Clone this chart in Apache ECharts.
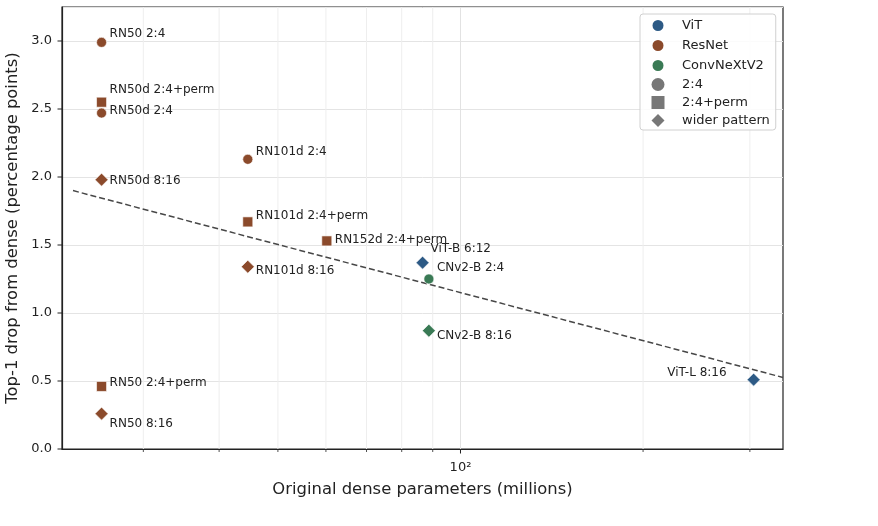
<!DOCTYPE html>
<html>
<head>
<meta charset="utf-8">
<script src="https://cdn.jsdelivr.net/npm/echarts@6/dist/echarts.min.js"></script>
<style>
  html, body { margin: 0; padding: 0; background: #fff; }
  #chart { width: 878px; height: 526px; }
</style>
</head>
<body>
<div id="chart"></div>
<script>
/** ---------------- data ---------------- */
var pointLabels = ['RN50 2:4', 'RN50d 2:4+perm', 'RN50d 2:4', 'RN50d 8:16',
    'RN101d 2:4', 'RN101d 2:4+perm', 'RN101d 8:16', 'RN152d 2:4+perm',
    'ViT-B 6:12', 'CNv2-B 2:4', 'CNv2-B 8:16', 'RN50 2:4+perm', 'RN50 8:16', 'ViT-L 8:16'];
var paramsM = [25.6, 25.6, 25.6, 25.6, 44.6, 44.6, 44.6, 60.2, 86.6, 88.7, 88.7, 25.6, 25.6, 304.3];
var drops = [2.99, 2.55, 2.47, 1.98, 2.13, 1.67, 1.34, 1.53, 1.37, 1.25, 0.87, 0.46, 0.26, 0.51];
var families = ['ResNet', 'ResNet', 'ResNet', 'ResNet', 'ResNet', 'ResNet', 'ResNet', 'ResNet',
    'ViT', 'ConvNeXtV2', 'ConvNeXtV2', 'ResNet', 'ResNet', 'ViT'];
var patterns = ['2:4', '2:4+perm', '2:4', 'wider pattern', '2:4', '2:4+perm', 'wider pattern', '2:4+perm',
    'wider pattern', '2:4', 'wider pattern', '2:4+perm', 'wider pattern', 'wider pattern'];

var familyNames = ['ViT', 'ResNet', 'ConvNeXtV2'];
var patternNames = ['2:4', '2:4+perm', 'wider pattern'];

// dashed fit line (log-x)
var trendX = [22.97, 340.2];
var trendY = [1.90, 0.526];

var xMinorTicks = [30, 40, 50, 60, 70, 80, 90, 200, 300];
var xMajorTicks = [100];
var yTicks = [0, 0.5, 1.0, 1.5, 2.0, 2.5, 3.0];

/** ---------------- styles ---------------- */
var familyColors = { 'ViT': '#2d5a85', 'ResNet': '#8b4a2b', 'ConvNeXtV2': '#3a7a55' };
var patternSymbols = { '2:4': 'circle', '2:4+perm': 'rect', 'wider pattern': 'diamond' };
var patternSizes = { '2:4': 10, '2:4+perm': 10, 'wider pattern': 13 };
var legendIcons = {
    '2:4': 'circle',
    '2:4+perm': 'path://M1,1L12,1L12,12L1,12Z',
    'wider pattern': 'path://M6.5,0L13,6.5L6.5,13L0,6.5Z'
};
// text offsets from marker centre (like annotate xytext)
var labelOffsets = {
    'RN50 2:4': [8, -8], 'RN50d 2:4+perm': [8, -12], 'RN50d 2:4': [8, -2], 'RN50d 8:16': [8, 1],
    'RN101d 2:4': [8, -7], 'RN101d 2:4+perm': [8, -6], 'RN101d 8:16': [8, 4], 'RN152d 2:4+perm': [8, -1],
    'ViT-B 6:12': [8, -14], 'CNv2-B 2:4': [8, -11], 'CNv2-B 8:16': [8, 5],
    'RN50 2:4+perm': [8, -4], 'RN50 8:16': [8, 10], 'ViT-L 8:16': [-27, -7]
};
var FONT = 'DejaVu Sans';
var INK = '#222';

function buildFamilySeries(fam) {
    var data = [];
    for (var i = 0; i < pointLabels.length; i++) {
        if (families[i] !== fam) continue;
        var off = labelOffsets[pointLabels[i]];
        data.push({
            value: [paramsM[i], drops[i]],
            symbol: patternSymbols[patterns[i]],
            symbolSize: patternSizes[patterns[i]],
            label: {
                show: true,
                formatter: pointLabels[i],
                position: 'inside',
                align: off[0] < 0 ? 'right' : 'left',
                verticalAlign: 'middle',
                offset: off,
                color: INK,
                fontSize: 12,
                fontFamily: FONT
            }
        });
    }
    return {
        name: fam,
        type: 'scatter',
        z: 4,
        itemStyle: { color: familyColors[fam], opacity: 1, borderColor: '#fff', borderWidth: 0.6 },
        emphasis: { disabled: true },
        data: data
    };
}

var series = [];
// vertical gridlines + bottom ticks (log axis minor ticks)
var tickData = [];
for (var i = 0; i < xMinorTicks.length; i++) tickData.push([xMinorTicks[i], 0, 0]);
for (var j = 0; j < xMajorTicks.length; j++) tickData.push([xMajorTicks[j], 0, 1]);
series.push({
    type: 'custom',
    z: 0,
    clip: false,
    silent: true,
    data: tickData,
    encode: { x: 0, y: 1 },
    renderItem: function (params, api) {
        var x = api.coord([api.value(0), 0])[0];
        var cs = params.coordSys;
        var bottom = cs.y + cs.height;
        var major = api.value(2) === 1;
        return {
            type: 'group',
            children: [
                { type: 'line', shape: { x1: x, y1: cs.y, x2: x, y2: bottom },
                  style: { stroke: major ? '#e2e2e2' : '#eeeeee', lineWidth: 1 } },
                { type: 'line', shape: { x1: x, y1: bottom, x2: x, y2: bottom + (major ? 4.5 : 3) },
                  style: { stroke: INK, lineWidth: major ? 1 : 0.8 } }
            ]
        };
    }
});
// y ticks on the left spine
var yTickData = [];
for (var k = 0; k < yTicks.length; k++) yTickData.push([trendX[0], yTicks[k]]);
series.push({
    type: 'custom',
    z: 0,
    clip: false,
    silent: true,
    data: yTickData,
    encode: { x: 0, y: 1 },
    renderItem: function (params, api) {
        var y = api.coord([trendX[0], api.value(1)])[1];
        var x0 = params.coordSys.x;
        return { type: 'line', shape: { x1: x0 - 4.5, y1: y, x2: x0, y2: y },
                 style: { stroke: INK, lineWidth: 1 } };
    }
});
series.push({
    type: 'line',
    z: 2,
    silent: true,
    symbol: 'none',
    lineStyle: { color: '#474747', width: 1.5, type: [6, 3] },
    data: [[trendX[0], trendY[0]], [trendX[1], trendY[1]]]
});
for (var f = 0; f < familyNames.length; f++) series.push(buildFamilySeries(familyNames[f]));
for (var p = 0; p < patternNames.length; p++) {
    series.push({
        name: patternNames[p],
        type: 'scatter',
        itemStyle: { color: '#777', opacity: 1 },
        symbol: patternSymbols[patternNames[p]],
        data: []
    });
}

var legendData = [];
for (var a = 0; a < familyNames.length; a++) {
    legendData.push({ name: familyNames[a], icon: 'circle', itemStyle: { color: familyColors[familyNames[a]], opacity: 1 } });
}
for (var b = 0; b < patternNames.length; b++) {
    legendData.push({ name: patternNames[b], icon: legendIcons[patternNames[b]], itemStyle: { color: '#777', opacity: 1 } });
}

var chart = echarts.init(document.getElementById('chart'));
var option = {
    backgroundColor: '#fff',
    animation: false,
    textStyle: { fontFamily: FONT },
    grid: {
        left: 62, right: 95, top: 7, bottom: 77,
        outerBoundsMode: 'none',
        containLabel: false,
        show: true, borderColor: INK, borderWidth: 1.2, backgroundColor: 'transparent'
    },
    legend: {
        orient: 'vertical',
        left: 640, top: 14,
        padding: [4, 6, 3, 10.5],
        itemWidth: 20, itemHeight: 13, itemGap: 5,
        symbolKeepAspect: true,
        selectedMode: false,
        backgroundColor: 'rgba(255,255,255,0.85)',
        borderColor: '#d0d0d0', borderWidth: 1, borderRadius: 3,
        textStyle: { fontSize: 13, color: INK, fontFamily: FONT, padding: [0, 0, 0, 9] },
        data: legendData
    },
    xAxis: {
        type: 'log',
        logBase: 10,
        min: 22.03,
        max: 340.2,
        name: 'Original dense parameters (millions)',
        nameLocation: 'middle',
        nameGap: 33,
        nameTextStyle: { fontSize: 16.4, color: INK, fontFamily: FONT },
        axisLine: { show: true, lineStyle: { color: INK, width: 1.2 } },
        axisTick: { show: false },
        splitLine: { show: false },
        axisLabel: {
            margin: 12,
            fontSize: 13,
            color: INK,
            formatter: function (v) {
                return Math.abs(v - 100) < 0.01 ? '10\u00b2' : '';
            }
        }
    },
    yAxis: {
        type: 'value',
        min: 0,
        max: 3.25,
        interval: 0.5,
        name: 'Top-1 drop from dense (percentage points)',
        nameLocation: 'middle',
        nameGap: 39,
        nameTextStyle: { fontSize: 16.4, color: INK, fontFamily: FONT },
        axisLine: { show: true, lineStyle: { color: INK, width: 1.2 } },
        axisTick: { show: false },
        splitLine: { show: true, lineStyle: { color: '#e4e4e4', width: 1 } },
        axisLabel: {
            margin: 10,
            fontSize: 13,
            color: INK,
            formatter: function (v) {
                return Math.abs(v * 2 - Math.round(v * 2)) < 1e-6 ? v.toFixed(1) : '';
            }
        }
    },
    series: series
};
chart.setOption(option);
</script>
</body>
</html>
